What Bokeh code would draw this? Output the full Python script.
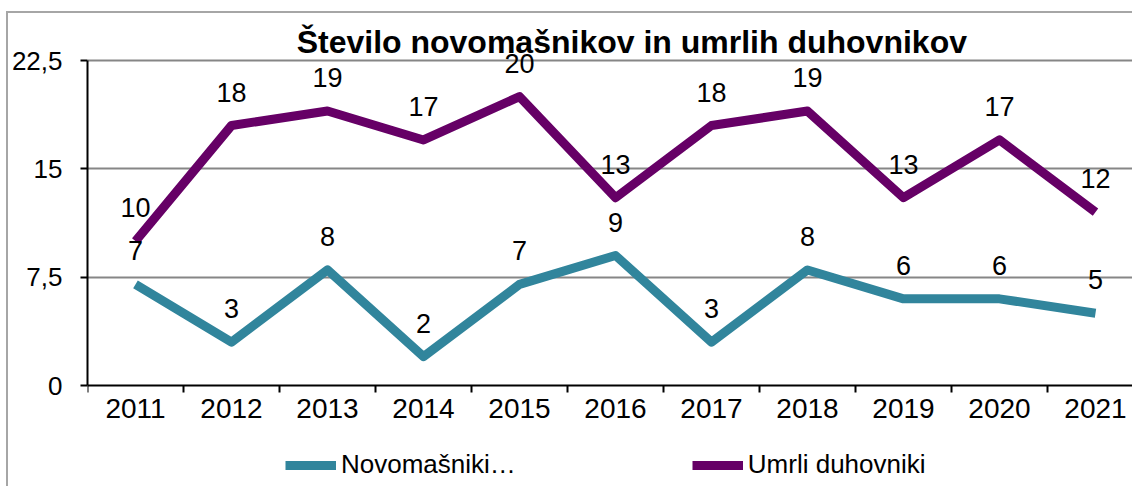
from bokeh.plotting import figure
from bokeh.models import (ColumnDataSource, FixedTicker, Range1d, LabelSet, Label,
                          Legend, LegendItem, CustomJSTickFormatter)
from bokeh.core.properties import value
from bokeh.embed import file_html
from bokeh.resources import INLINE

# ---- data ----
years = ["2011", "2012", "2013", "2014", "2015", "2016", "2017", "2018", "2019", "2020", "2021"]
novomasniki = [7, 3, 8, 2, 7, 9, 3, 8, 6, 6, 5]
umrli = [10, 18, 19, 17, 20, 13, 18, 19, 13, 17, 12]
y_ticks = [0, 7.5, 15, 22.5]
title_text = "Število novomašnikov in umrlih duhovnikov"
series_names = ["Novomašniki…", "Umrli duhovniki"]

TEAL = "#31859C"
PURPLE = "#660066"
FONT = "Liberation Sans"

# ---- layout (pixels) ----
W, H = 1126, 475          # canvas size
BL = 79                   # room for the y tick labels
band = 96                 # px per category
plot_top, plot_bottom = 47, 372   # y of 22.5 and 0 inside the canvas
frame_w = W - BL
ppu = (plot_bottom - plot_top) / (y_ticks[-1] - y_ticks[0])

xs = list(range(1, len(years) + 1))
src = ColumnDataSource(dict(
    x=xs,
    novo=novomasniki,
    umrli=umrli,
    novo_txt=[str(v) for v in novomasniki],
    umrli_txt=[str(v) for v in umrli],
))

p = figure(width=W, height=H, output_backend="svg", toolbar_location=None,
           x_range=Range1d(0.5, 0.5 + frame_w / band),
           y_range=Range1d(y_ticks[0] - (H - plot_bottom) / ppu, y_ticks[-1] + plot_top / ppu),
           min_border_left=BL, min_border_right=0, min_border_top=0, min_border_bottom=0)
p.outline_line_color = None
p.background_fill_color = "white"
p.border_fill_color = "white"
p.margin = (11, 0, 0, 6)
p.styles = {"border-left": "2px solid #a6a6a6", "border-top": "2px solid #a6a6a6"}

# grid
p.xgrid.visible = False
p.ygrid.ticker = FixedTicker(ticks=y_ticks[1:])
p.ygrid.grid_line_color = "#868686"
p.ygrid.grid_line_width = 2

# y axis
p.yaxis.ticker = FixedTicker(ticks=y_ticks)
p.yaxis.bounds = (y_ticks[0], y_ticks[-1])
p.yaxis.formatter = CustomJSTickFormatter(code="return String(tick).replace('.', ',');")
p.yaxis.axis_line_color = "black"
p.yaxis.axis_line_width = 2
p.yaxis.major_tick_out = 7
p.yaxis.major_tick_in = 0
p.yaxis.major_tick_line_width = 2
p.yaxis.major_tick_line_color = "black"
p.yaxis.minor_tick_line_color = None
p.yaxis.major_label_standoff = 18
p.yaxis.major_label_text_font = FONT
p.yaxis.major_label_text_font_size = "26px"
p.yaxis.major_label_text_color = "black"

# x axis (drawn at y = 0)
p.xaxis.fixed_location = 0
p.xaxis.ticker = FixedTicker(ticks=xs, minor_ticks=[x - 0.5 for x in xs] + [xs[-1] + 0.5])
p.xaxis.major_label_overrides = {x: y for x, y in zip(xs, years)}
p.xaxis.axis_line_color = "black"
p.xaxis.axis_line_width = 2
p.xaxis.major_tick_line_color = None
p.xaxis.major_tick_out = 7
p.xaxis.major_tick_in = 0
p.xaxis.minor_tick_out = 7
p.xaxis.minor_tick_in = 0
p.xaxis.minor_tick_line_color = "black"
p.xaxis.minor_tick_line_width = 2
p.xaxis.major_label_standoff = 6
p.xaxis.major_label_text_font = FONT
p.xaxis.major_label_text_font_size = "28px"
p.xaxis.major_label_text_color = "black"

# lines
r1 = p.line(x="x", y="novo", source=src, line_color=TEAL, line_width=9, line_join="round")
r2 = p.line(x="x", y="umrli", source=src, line_color=PURPLE, line_width=9, line_join="round")

# data labels
for col in ["novo", "umrli"]:
    p.add_layout(LabelSet(x="x", y=col, text=col + "_txt", source=src, y_offset=24,
                          text_align="center", text_baseline="alphabetic",
                          text_font=value(FONT), text_font_size="27px", text_color="black"))

# title
p.add_layout(Label(x=6.17, y=y_ticks[-1], y_offset=19, text=title_text,
                   text_align="center", text_baseline="alphabetic",
                   text_font=FONT, text_font_size="32px", text_font_style="bold",
                   text_color="black"))

legend = Legend(items=[LegendItem(label=series_names[0], renderers=[r1]),
                       LegendItem(label=series_names[1], renderers=[r2])],
                orientation="horizontal", location=(198, 8), padding=0, margin=0,
                spacing=176, glyph_width=51, glyph_height=30, label_height=30,
                label_standoff=5,
                label_text_font=FONT, label_text_font_size="26px", label_text_color="black",
                border_line_color=None, background_fill_alpha=0)
p.add_layout(legend)

open("out.html", "w").write(file_html(p, INLINE))
